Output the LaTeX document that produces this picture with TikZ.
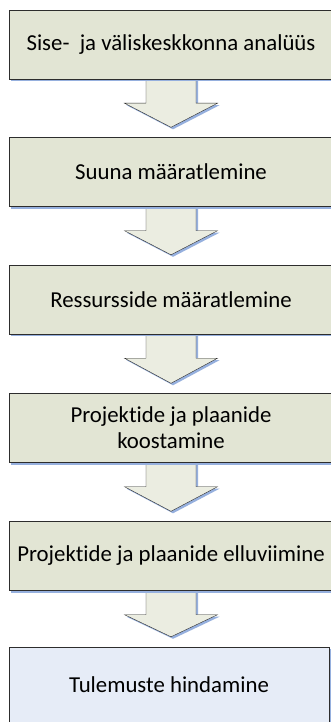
\documentclass[tikz,border=0pt]{standalone}
\usepackage{fontspec}
\setmainfont[Ligatures=NoCommon]{Carlito}
\usetikzlibrary{positioning,shadows,backgrounds}

\definecolor{boxgreen}{RGB}{226,229,212}
\definecolor{arrowgreen}{RGB}{235,237,225}
\definecolor{boxblue}{RGB}{230,236,247}
\definecolor{shadowblue}{RGB}{150,176,222}
\definecolor{edgegray}{RGB}{45,45,45}

% block arrow from the bottom of one box towards the next
\newcommand{\stagearrow}[2]{%
  \filldraw[flowarrow] ([xshift=-25pt]#1.south) -- ++(0,24) -- ++(-21.5,0)
    -- ([yshift=10pt]#2.north -| #1.south) -- ([xshift=46.5pt,yshift=-24pt]#1.south)
    -- ++(-21.5,0) -- ([xshift=25pt]#1.south);}

\begin{document}
\begin{tikzpicture}
  [x=1pt,y=-1pt,
   stage/.style={rectangle,draw=edgegray,fill=boxgreen,minimum width=324pt,
     minimum height=69pt,inner sep=2pt,align=center,font=\fontsize{22.8}{26}\selectfont,
     drop shadow={shadow xshift=1.5pt,shadow yshift=-2pt,fill=shadowblue,opacity=1}},
   flowarrow/.style={draw=edgegray,fill=arrowgreen,line join=miter,
     drop shadow={shadow xshift=2pt,shadow yshift=-2pt,fill=shadowblue,opacity=1}}]
  \useasboundingbox (0,0) rectangle (331,722);
  \clip (0,0) rectangle (331,722);

  \node[stage] (analyys) at (171,44.5) {Sise-\ \ ja väliskeskkonna analüüs};
  \node[stage] (suund) at (171,172) {Suuna määratlemine};
  \node[stage] (ressurss) at (171,299.5) {Ressursside määratlemine};
  \node[stage] (koostamine) at (171,428) {Projektide ja plaanide\\koostamine};
  \node[stage] (elluviimine) at (171,556) {Projektide ja plaanide elluviimine};
  \node[stage,fill=boxblue,minimum width=320pt,minimum height=76pt] (hindamine) at (169,685) {Tulemuste hindamine};

  \begin{scope}[on background layer]
    \fill[white] (0,0) rectangle (331,722);
    \stagearrow{analyys}{suund}
    \stagearrow{suund}{ressurss}
    \stagearrow{ressurss}{koostamine}
    \stagearrow{koostamine}{elluviimine}
    \stagearrow{elluviimine}{hindamine}
  \end{scope}
\end{tikzpicture}
\end{document}
